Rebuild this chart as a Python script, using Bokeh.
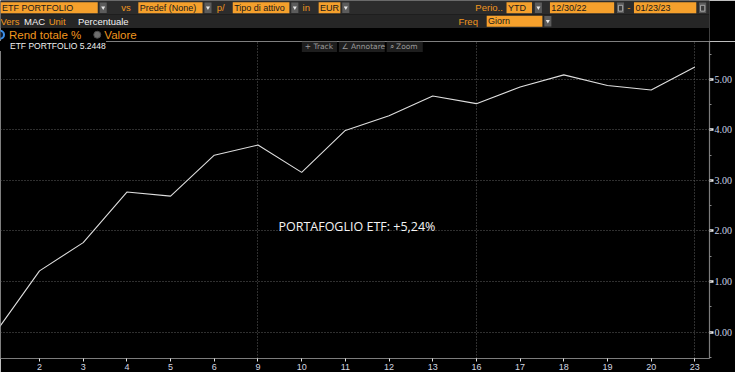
from bokeh.plotting import figure
from bokeh.models import Range1d, FixedTicker, SingleIntervalTicker, NumeralTickFormatter, Label, Legend, LegendItem
from bokeh.layouts import column
from bokeh.core.properties import value
from bokeh.embed import file_html
from bokeh.resources import INLINE

# ---------------- data ----------------
series_name = "ETF PORTFOLIO"
days = ["30", "2", "3", "4", "5", "6", "9", "10", "11", "12", "13", "16", "17", "18", "19", "20", "23"]
values = [0.00, 1.21, 1.77, 2.77, 2.69, 3.50, 3.70, 3.16, 3.99, 4.28, 4.67, 4.52, 4.85, 5.09, 4.88, 4.79, 5.2448]
week_starts = ["9", "16", "23"]

# header texts
box_labels = ["ETF PORTFOLIO", "Predef (None)", "Tipo di attivo", "EUR", "YTD", "12/30/22", "01/23/23", "Giorn"]
orange_words = ["vs", "p/", "in", "Perio..", "-", "Vers", "Unit", "Freq"]
white_words = ["MAC", "Percentuale"]
radio_labels = ["Rend totale %", "Valore"]
tool_labels = ["+ Track", "\u2220 Annotare", "\u2315 Zoom"]

ORANGE_BOX = "#f5a02c"
ORANGE_TXT = "#f0961e"
UI_FONT = value("Liberation Sans")

W = 735
HEAD_H = 41
CHART_H = 331

# ---------------- header ----------------
h = figure(width=W, height=HEAD_H, x_range=Range1d(0, 751), y_range=Range1d(42.5, 0),
           output_backend="svg", toolbar_location=None, min_border=0,
           background_fill_color="black", border_fill_color="black", outline_line_color=None)
h.axis.visible = False
h.grid.visible = False

h.quad(left=[0, 0], right=[751, 751], top=[0, 14.5], bottom=[14.5, 28.5],
       fill_color=["#2c2c2c", "#262626"], line_color=None)

box_left = [0, 146, 246, 337, 536, 582, 671, 515]
box_right = [103, 214, 306, 360, 563, 650, 737, 574]
box_y = [7.5, 7.5, 7.5, 7.5, 7.5, 7.5, 7.5, 21.5]
h.quad(left=box_left, right=box_right, top=[y - 5.8 for y in box_y], bottom=[y + 5.8 for y in box_y],
       fill_color=ORANGE_BOX, line_color=None)
h.text(x=[l + 1.5 for l in box_left], y=box_y, text=box_labels, text_font=UI_FONT,
       text_font_size="9px", text_color="#1a1a1a", text_baseline="middle")

dd_left = [105, 216, 308, 362, 566, 576]
dd_y = [7.5, 7.5, 7.5, 7.5, 7.5, 21.5]
h.quad(left=dd_left, right=[l + 7.5 for l in dd_left], top=[y - 5.5 for y in dd_y],
       bottom=[y + 5.5 for y in dd_y], fill_color="#5c5c5c", line_color=None)
h.scatter(x=[l + 3.75 for l in dd_left], y=dd_y, marker="inverted_triangle", size=4,
          fill_color="#e8e8e8", line_color=None)

cal_left = [653, 740]
h.quad(left=cal_left, right=[l + 7.5 for l in cal_left], top=[2, 2], bottom=[13, 13],
       fill_color="#5c5c5c", line_color=None)
h.quad(left=[l + 1.5 for l in cal_left], right=[l + 6 for l in cal_left], top=[5, 5], bottom=[11, 11],
       fill_color="#3a3a3a", line_color="#bdbdbd", line_width=0.8)

ow_x = [128, 229, 320, 503, 664, 0, 51, 485]
ow_y = [7.5, 7.5, 7.5, 7.5, 7.5, 21.5, 21.5, 21.5]
h.text(x=ow_x, y=ow_y, text=orange_words, text_font=UI_FONT, text_font_size="9.5px",
       text_color=ORANGE_TXT, text_baseline="middle")
h.text(x=[25, 82], y=[21.5, 21.5], text=white_words, text_font=UI_FONT, text_font_size="9.5px",
       text_color="#f2f2f2", text_baseline="middle")

h.scatter(x=[-0.5], y=[35.5], marker="circle", size=8, fill_color="#0a1a30", line_color="#3b8fe8", line_width=2)
h.scatter(x=[102.5], y=[35.5], marker="circle", size=7, fill_color="#6e6e6e", line_color="#4a4a4a")
h.text(x=[9, 110], y=[35.5, 35.5], text=radio_labels, text_font=UI_FONT, text_font_size="11.5px",
       text_color=ORANGE_TXT, text_baseline="middle")

# ---------------- chart ----------------
x = list(range(len(values)))
XS, XE = 0.107, 16.335
YS, YE = -0.524, 5.75

p = figure(width=W, height=CHART_H, x_range=Range1d(XS, XE), y_range=Range1d(YS, YE),
           y_axis_location="right", output_backend="svg", toolbar_location=None,
           background_fill_color="black", border_fill_color="black", outline_line_color=None,
           min_border_left=0, min_border_top=0, min_border_bottom=0, min_border_right=0)

# helpers to place decorative items (ref pixel -> data)
def px_x(px):
    return XS + px * (XE - XS) / 727.0

def px_y(py):
    return YE - (py - 43) * (YE - YS) / 332.0

# grid
p.xgrid.ticker = FixedTicker(ticks=[days.index(d) for d in week_starts])
for g in (p.xgrid, p.ygrid):
    g.grid_line_color = "#5e5e5e"
    g.grid_line_dash = "1 2"
    g.grid_line_width = 1

# axes
p.xaxis.ticker = FixedTicker(ticks=x[1:])
p.xaxis.major_label_overrides = {i: d for i, d in enumerate(days)}
p.yaxis.ticker = SingleIntervalTicker(interval=1, num_minor_ticks=2)
p.yaxis.formatter = NumeralTickFormatter(format="0.00")
for ax in (p.xaxis, p.yaxis):
    ax.axis_line_color = "#7c7c7c"
    ax.axis_line_width = 1.2
    ax.major_tick_in = 0
    ax.minor_tick_in = 0
p.xaxis.major_tick_out = 3
p.xaxis.major_tick_line_color = "#e6e6e6"
p.xaxis.minor_tick_line_color = None
p.xaxis.major_label_text_font = "Liberation Sans"
p.xaxis.major_label_text_font_size = "9px"
p.xaxis.major_label_text_color = "#d4d8e0"
p.xaxis.major_label_standoff = 2
p.yaxis.major_tick_out = 4
p.yaxis.major_tick_line_width = 2.5
p.yaxis.major_tick_line_color = "#f0f0f0"
p.yaxis.minor_tick_out = 2
p.yaxis.minor_tick_line_color = "#8a8a8a"
p.yaxis.major_label_text_font = "Liberation Serif"
p.yaxis.major_label_text_font_size = "10px"
p.yaxis.major_label_text_color = "#c9d3e6"
p.yaxis.major_label_standoff = 1

# series
p.line(x=x, y=values, line_color="#dedede", line_width=1.1)

# legend (white square + name + last value)
sq = p.scatter(x=[], y=[], marker="square", size=7, fill_color="white", line_color="white")
legend = Legend(items=[LegendItem(label=f"{series_name} {values[-1]:.4f}", renderers=[sq])],
                location="top_left", background_fill_color="black", background_fill_alpha=1,
                border_line_color=None, label_text_color="#f0f0f0", label_text_font_size="8.5px",
                label_text_font="Liberation Sans", glyph_width=7, glyph_height=7,
                padding=4, margin=0, spacing=0, label_standoff=3, label_height=8)
p.add_layout(legend)

# tool buttons (decorative)
tb_left = [309, 347, 396]
tb_right = [345, 394, 433]
p.quad(left=[px_x(v) for v in tb_left], right=[px_x(v) for v in tb_right],
       top=[px_y(43)] * 3, bottom=[px_y(54)] * 3, fill_color="#1e1e1e", line_color=None)
p.text(x=[px_x(v + 3) for v in tb_left], y=[px_y(48.5)] * 3, text=tool_labels,
       text_font=value("DejaVu Sans"), text_font_size="7.5px", text_color="#9a9a9a",
       text_baseline="middle")

# annotation
ann = Label(x=px_x(285), y=2.085,
            text=f"PORTAFOGLIO ETF: +{values[-1]:.2f}%".replace(".", ","),
            text_font="Open Sans", text_font_size="12.5px", text_color="#f4f4f4",
            text_baseline="middle")
p.add_layout(ann)

layout = column(h, p, spacing=0)
open("out.html", "w").write(file_html(layout, INLINE))
